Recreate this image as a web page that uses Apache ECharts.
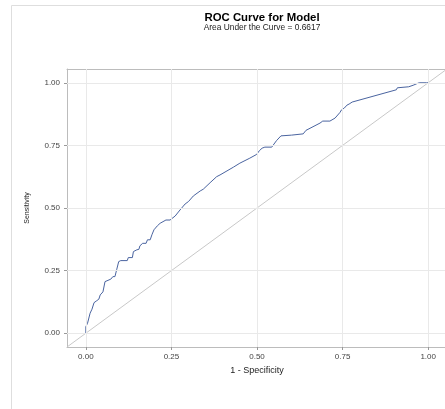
<!DOCTYPE html>
<html>
<head>
<meta charset="utf-8">
<script src="https://cdn.jsdelivr.net/npm/echarts@6/dist/echarts.min.js"></script>
<style>html,body{margin:0;padding:0;background:#fff;}#c{width:445px;height:409px;}</style>
</head>
<body>
<div id="c"></div>
<script>
const TITLE = 'ROC Curve for Model';
const SUBTITLE = 'Area Under the Curve = 0.6617';
const X_NAME = '1 - Specificity';
const Y_NAME = 'Sensitivity';
const TICKS = [0, 0.25, 0.5, 0.75, 1];
const AXIS_MIN = -0.055;
const AXIS_MAX = 1.055;
// ROC curve: 1 - specificity
const rocX = [0,0,0.005,0.0125,0.018,0.024,0.032,0.038,0.042,0.05,0.056,0.061,0.073,0.079,0.085,0.09,0.096,0.102,0.121,0.124,0.136,0.139,0.149,0.155,0.158,0.166,0.176,0.18,0.188,0.193,0.199,0.209,0.217,0.222,0.234,0.246,0.261,0.275,0.29,0.3,0.314,0.334,0.343,0.363,0.382,0.392,0.431,0.45,0.479,0.499,0.504,0.507,0.515,0.523,0.543,0.557,0.57,0.601,0.603,0.635,0.643,0.684,0.692,0.713,0.728,0.742,0.747,0.755,0.763,0.769,0.778,0.907,0.91,0.943,0.946,0.956,0.968,0.974,0.995,1];
// ROC curve: sensitivity
const rocY = [0,0.026,0.04,0.08,0.096,0.122,0.13,0.136,0.153,0.165,0.206,0.213,0.216,0.226,0.226,0.253,0.286,0.29,0.29,0.302,0.302,0.326,0.333,0.335,0.349,0.359,0.359,0.373,0.373,0.393,0.413,0.429,0.439,0.446,0.452,0.452,0.468,0.492,0.516,0.526,0.548,0.568,0.575,0.601,0.625,0.632,0.663,0.679,0.699,0.714,0.719,0.729,0.739,0.743,0.743,0.769,0.788,0.791,0.796,0.796,0.81,0.839,0.847,0.847,0.859,0.881,0.892,0.899,0.911,0.915,0.923,0.972,0.98,0.984,0.988,0.99,0.997,1,1,1];
const refX = [AXIS_MIN, AXIS_MAX];
const refY = [AXIS_MIN, AXIS_MAX];

const fmt = v => v.toFixed(2);
const FONT = '"Liberation Sans", Arial, sans-serif';
const FRAME = '#bcbcbc';
const chart = echarts.init(document.getElementById('c'), null, {renderer: 'canvas'});
const gridMarks = [];
TICKS.forEach(t => { gridMarks.push({xAxis: t}); gridMarks.push({yAxis: t}); });
chart.setOption({
  animation: false,
  backgroundColor: '#fff',
  textStyle: {fontFamily: FONT},
  graphic: [{type: 'rect', shape: {x: 11.5, y: 5.5, width: 470, height: 410}, style: {fill: null, stroke: '#dedede', lineWidth: 1}, silent: true, z: -10}],
  title: {
    text: TITLE, subtext: SUBTITLE, left: 257, textAlign: 'center', top: 7, itemGap: 1,
    textStyle: {fontFamily: FONT, fontSize: 11.4, fontWeight: 'bold', color: '#000'},
    subtextStyle: {fontFamily: FONT, fontSize: 8.4, color: '#222'}
  },
  grid: {left: 67, top: 69, width: 380, height: 278, show: false, outerBoundsMode: 'none', containLabel: false},
  xAxis: [{
    type: 'value', min: AXIS_MIN, max: AXIS_MAX, position: 'bottom',
    name: X_NAME, nameLocation: 'middle', nameGap: 18,
    nameTextStyle: {fontFamily: FONT, fontSize: 9, color: '#222'},
    axisLine: {show: true, onZero: false, lineStyle: {color: FRAME, width: 1}},
    axisTick: {show: true, customValues: TICKS, length: 3, lineStyle: {color: '#999'}},
    axisLabel: {customValues: TICKS, formatter: fmt, fontFamily: FONT, fontSize: 8, color: '#444', margin: 6},
    splitLine: {show: false}
  }, {
    type: 'value', min: AXIS_MIN, max: AXIS_MAX, position: 'top',
    axisLine: {show: true, onZero: false, lineStyle: {color: FRAME, width: 1}},
    axisTick: {show: false}, axisLabel: {show: false}, splitLine: {show: false}
  }],
  yAxis: {
    type: 'value', min: AXIS_MIN, max: AXIS_MAX, position: 'left',
    name: Y_NAME, nameLocation: 'middle', nameGap: 36,
    nameTextStyle: {fontFamily: FONT, fontSize: 7, color: '#222'},
    axisLine: {show: true, onZero: false, lineStyle: {color: FRAME, width: 1}},
    axisTick: {show: true, customValues: TICKS, length: 3, lineStyle: {color: '#999'}},
    axisLabel: {customValues: TICKS, formatter: fmt, fontFamily: FONT, fontSize: 8, color: '#444', margin: 7},
    splitLine: {show: false}
  },
  series: [
    {type: 'line', data: [], z: 1, silent: true,
     markLine: {silent: true, symbol: 'none', label: {show: false}, lineStyle: {color: '#e9e9e9', width: 1, type: 'solid'}, data: gridMarks}},
    {type: 'line', data: refX.map((x, i) => [x, refY[i]]), symbol: 'none', z: 2,
     lineStyle: {color: '#c8c8c8', width: 1}},
    {type: 'line', data: rocX.map((x, i) => [x, rocY[i]]), symbol: 'none', z: 3,
     lineStyle: {color: '#4a64a0', width: 1}}
  ]
});
</script>
</body>
</html>
